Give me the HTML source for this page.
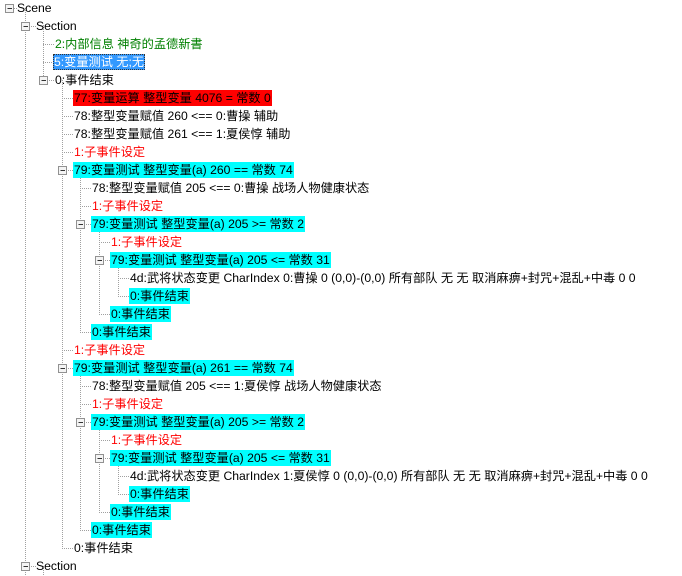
<!DOCTYPE html>
<html><head><meta charset="utf-8"><style>
body{margin:0;width:682px;height:576px;background:#fff;overflow:hidden;position:relative;font-family:"Liberation Sans","Noto Sans CJK SC",sans-serif;font-size:12.2px;color:#000}
.t{position:absolute;height:16px;line-height:16px;white-space:nowrap;padding:0 1px}
.c{background:#00ffff}
.r{background:#ff0000}
.g{color:#008000}
.rd{color:#ff0000}
.s{background:#3399ff;color:#fff;outline:1px dotted #333;outline-offset:-1px}
svg{position:absolute;left:0;top:0}
</style></head><body>
<svg width="682" height="576">
<g stroke="#a0a0a0" stroke-width="1" stroke-dasharray="1,1" fill="none">
<line x1="25.5" y1="8" x2="25.5" y2="576"/>
<line x1="43.5" y1="25" x2="43.5" y2="80"/>
<line x1="43.5" y1="566" x2="43.5" y2="576"/>
<line x1="62.5" y1="80" x2="62.5" y2="548"/>
<line x1="80.5" y1="170" x2="80.5" y2="332"/>
<line x1="80.5" y1="368" x2="80.5" y2="530"/>
<line x1="99.5" y1="224" x2="99.5" y2="314"/>
<line x1="99.5" y1="422" x2="99.5" y2="512"/>
<line x1="118.5" y1="260" x2="118.5" y2="296"/>
<line x1="118.5" y1="458" x2="118.5" y2="494"/>
<line x1="14" y1="8.5" x2="17" y2="8.5"/>
<line x1="25" y1="26.5" x2="36" y2="26.5"/>
<line x1="43" y1="44.5" x2="55" y2="44.5"/>
<line x1="43" y1="62.5" x2="55" y2="62.5"/>
<line x1="43" y1="80.5" x2="55" y2="80.5"/>
<line x1="62" y1="98.5" x2="73" y2="98.5"/>
<line x1="62" y1="116.5" x2="73" y2="116.5"/>
<line x1="62" y1="134.5" x2="73" y2="134.5"/>
<line x1="62" y1="152.5" x2="73" y2="152.5"/>
<line x1="62" y1="170.5" x2="73" y2="170.5"/>
<line x1="80" y1="188.5" x2="92" y2="188.5"/>
<line x1="80" y1="206.5" x2="92" y2="206.5"/>
<line x1="80" y1="224.5" x2="92" y2="224.5"/>
<line x1="99" y1="242.5" x2="111" y2="242.5"/>
<line x1="99" y1="260.5" x2="111" y2="260.5"/>
<line x1="118" y1="278.5" x2="130" y2="278.5"/>
<line x1="118" y1="296.5" x2="130" y2="296.5"/>
<line x1="99" y1="314.5" x2="111" y2="314.5"/>
<line x1="80" y1="332.5" x2="92" y2="332.5"/>
<line x1="62" y1="350.5" x2="73" y2="350.5"/>
<line x1="62" y1="368.5" x2="73" y2="368.5"/>
<line x1="80" y1="386.5" x2="92" y2="386.5"/>
<line x1="80" y1="404.5" x2="92" y2="404.5"/>
<line x1="80" y1="422.5" x2="92" y2="422.5"/>
<line x1="99" y1="440.5" x2="111" y2="440.5"/>
<line x1="99" y1="458.5" x2="111" y2="458.5"/>
<line x1="118" y1="476.5" x2="130" y2="476.5"/>
<line x1="118" y1="494.5" x2="130" y2="494.5"/>
<line x1="99" y1="512.5" x2="111" y2="512.5"/>
<line x1="80" y1="530.5" x2="92" y2="530.5"/>
<line x1="62" y1="548.5" x2="73" y2="548.5"/>
<line x1="25" y1="566.5" x2="36" y2="566.5"/>
</g>
<g fill="#f4f4f4" stroke="#919191">
<rect x="5.5" y="4.5" width="8" height="8"/>
<rect x="21.5" y="22.5" width="8" height="8"/>
<rect x="39.5" y="76.5" width="8" height="8"/>
<rect x="58.5" y="166.5" width="8" height="8"/>
<rect x="76.5" y="220.5" width="8" height="8"/>
<rect x="95.5" y="256.5" width="8" height="8"/>
<rect x="58.5" y="364.5" width="8" height="8"/>
<rect x="76.5" y="418.5" width="8" height="8"/>
<rect x="95.5" y="454.5" width="8" height="8"/>
<rect x="21.5" y="562.5" width="8" height="8"/>
</g>
<g stroke="#333">
<line x1="7.5" y1="8.5" x2="12" y2="8.5"/>
<line x1="23.5" y1="26.5" x2="28" y2="26.5"/>
<line x1="41.5" y1="80.5" x2="46" y2="80.5"/>
<line x1="60.5" y1="170.5" x2="65" y2="170.5"/>
<line x1="78.5" y1="224.5" x2="83" y2="224.5"/>
<line x1="97.5" y1="260.5" x2="102" y2="260.5"/>
<line x1="60.5" y1="368.5" x2="65" y2="368.5"/>
<line x1="78.5" y1="422.5" x2="83" y2="422.5"/>
<line x1="97.5" y1="458.5" x2="102" y2="458.5"/>
<line x1="23.5" y1="566.5" x2="28" y2="566.5"/>
</g>
</svg>
<div class="t" style="left:16px;top:0px">Scene</div>
<div class="t" style="left:35px;top:18px">Section</div>
<div class="t g" style="left:54px;top:36px">2:内部信息 神奇的孟德新書</div>
<div class="t s" style="left:53px;top:54px">5:变量测试 无;无</div>
<div class="t" style="left:54px;top:72px">0:事件结束</div>
<div class="t r" style="left:73px;top:90px">77:变量运算 整型变量 4076 = 常数 0</div>
<div class="t" style="left:73px;top:108px">78:整型变量赋值 260 &lt;== 0:曹操 辅助</div>
<div class="t" style="left:73px;top:126px">78:整型变量赋值 261 &lt;== 1:夏侯惇 辅助</div>
<div class="t rd" style="left:73px;top:144px">1:子事件设定</div>
<div class="t c" style="left:73px;top:162px">79:变量测试 整型变量(a) 260 == 常数 74</div>
<div class="t" style="left:91px;top:180px">78:整型变量赋值 205 &lt;== 0:曹操 战场人物健康状态</div>
<div class="t rd" style="left:91px;top:198px">1:子事件设定</div>
<div class="t c" style="left:91px;top:216px">79:变量测试 整型变量(a) 205 &gt;= 常数 2</div>
<div class="t rd" style="left:110px;top:234px">1:子事件设定</div>
<div class="t c" style="left:110px;top:252px">79:变量测试 整型变量(a) 205 &lt;= 常数 31</div>
<div class="t" style="left:129px;top:270px">4d:武将状态变更 CharIndex 0:曹操 0 (0,0)-(0,0) 所有部队 无 无 取消麻痹+封咒+混乱+中毒 0 0</div>
<div class="t c" style="left:129px;top:288px">0:事件结束</div>
<div class="t c" style="left:110px;top:306px">0:事件结束</div>
<div class="t c" style="left:91px;top:324px">0:事件结束</div>
<div class="t rd" style="left:73px;top:342px">1:子事件设定</div>
<div class="t c" style="left:73px;top:360px">79:变量测试 整型变量(a) 261 == 常数 74</div>
<div class="t" style="left:91px;top:378px">78:整型变量赋值 205 &lt;== 1:夏侯惇 战场人物健康状态</div>
<div class="t rd" style="left:91px;top:396px">1:子事件设定</div>
<div class="t c" style="left:91px;top:414px">79:变量测试 整型变量(a) 205 &gt;= 常数 2</div>
<div class="t rd" style="left:110px;top:432px">1:子事件设定</div>
<div class="t c" style="left:110px;top:450px">79:变量测试 整型变量(a) 205 &lt;= 常数 31</div>
<div class="t" style="left:129px;top:468px">4d:武将状态变更 CharIndex 1:夏侯惇 0 (0,0)-(0,0) 所有部队 无 无 取消麻痹+封咒+混乱+中毒 0 0</div>
<div class="t c" style="left:129px;top:486px">0:事件结束</div>
<div class="t c" style="left:110px;top:504px">0:事件结束</div>
<div class="t c" style="left:91px;top:522px">0:事件结束</div>
<div class="t" style="left:73px;top:540px">0:事件结束</div>
<div class="t" style="left:35px;top:558px">Section</div>
</body></html>
